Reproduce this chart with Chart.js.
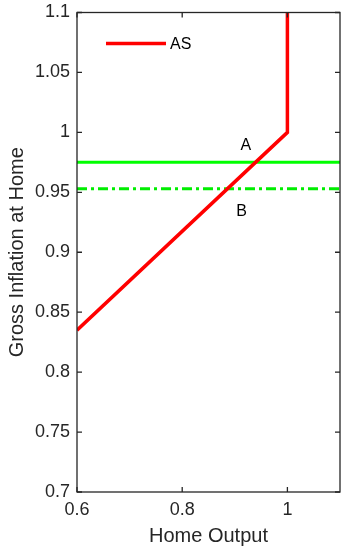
<!DOCTYPE html>
<html><head><meta charset="utf-8">
<script src="https://cdn.jsdelivr.net/npm/chart.js@4"></script>
<style>html,body{margin:0;padding:0;background:#fff;} #c{display:block;}</style>
</head><body>
<canvas id="c" width="341" height="548"></canvas>
<script>
const asX = [0.6, 1, 1];
const asY = [0.835, 1, 1.1];
const lineAX = [0.6, 1.1];
const lineAY = [0.975, 0.975];
const lineBX = [0.6, 1.1];
const lineBY = [0.953, 0.953];
const xTicks = [0.6, 0.8, 1];
const yTicks = [0.7, 0.75, 0.8, 0.85, 0.9, 0.95, 1, 1.05, 1.1];
const pointLabels = ['A', 'B'];
const pointLabelX = [0.921, 0.913];
const pointLabelY = [0.989, 0.934];

const FONT = '"Liberation Sans", Arial, sans-serif';
const AX = '#262626';
const toPts = (xs, ys) => xs.map((x, i) => ({x: x, y: ys[i]}));

const decor = {
  id: 'decor',
  afterDraw(chart) {
    const ctx = chart.ctx, a = chart.chartArea;
    const xs = chart.scales.x, ys = chart.scales.y;
    ctx.save();
    ctx.strokeStyle = AX;
    ctx.lineWidth = 1.3;
    ctx.strokeRect(a.left, a.top, a.right - a.left, a.bottom - a.top);
    const tl = 5;
    ctx.beginPath();
    xTicks.forEach(v => {
      const p = xs.getPixelForValue(v);
      ctx.moveTo(p, a.bottom); ctx.lineTo(p, a.bottom - tl);
      ctx.moveTo(p, a.top); ctx.lineTo(p, a.top + tl);
    });
    yTicks.forEach(v => {
      const p = ys.getPixelForValue(v);
      ctx.moveTo(a.left, p); ctx.lineTo(a.left + tl, p);
      ctx.moveTo(a.right, p); ctx.lineTo(a.right - tl, p);
    });
    ctx.stroke();
    // point labels
    ctx.fillStyle = '#000';
    ctx.font = '16px ' + FONT;
    ctx.textAlign = 'center';
    ctx.textBaseline = 'middle';
    pointLabels.forEach((t, i) => {
      ctx.fillText(t, xs.getPixelForValue(pointLabelX[i]), ys.getPixelForValue(pointLabelY[i]));
    });
    // legend
    const ds = chart.data.datasets[0];
    ctx.strokeStyle = ds.borderColor;
    ctx.lineWidth = ds.borderWidth;
    ctx.beginPath();
    ctx.moveTo(a.left + 29, a.top + 31);
    ctx.lineTo(a.left + 89, a.top + 31);
    ctx.stroke();
    ctx.textAlign = 'left';
    ctx.fillStyle = '#000';
    ctx.font = '16px ' + FONT;
    ctx.fillText(ds.label, a.left + 93, a.top + 32);
    ctx.restore();
  }
};

new Chart(document.getElementById('c'), {
  type: 'scatter',
  data: {
    datasets: [
      {label: 'AS', data: toPts(asX, asY), showLine: true, borderColor: '#ff0000', borderWidth: 3.5, pointRadius: 0, fill: false},
      {label: 'A', data: toPts(lineAX, lineAY), showLine: true, borderColor: '#00ff00', borderWidth: 3, pointRadius: 0, fill: false},
      {label: 'B', data: toPts(lineBX, lineBY), showLine: true, borderColor: '#00ee00', borderWidth: 3, borderDash: [10, 4, 3, 4], pointRadius: 0, fill: false}
    ]
  },
  options: {
    responsive: false,
    animation: false,
    devicePixelRatio: 1,
    layout: {padding: {top: 12.5, right: 1, bottom: 0, left: 0}},
    plugins: {legend: {display: false}, tooltip: {enabled: false}},
    scales: {
      x: {
        type: 'linear', min: 0.6, max: 1.1,
        afterBuildTicks: s => { s.ticks = xTicks.map(v => ({value: v})); },
        afterFit: s => { s.height = 56; s.paddingLeft = 0; s.paddingRight = 0; },
        grid: {display: false, drawTicks: false},
        border: {display: false},
        ticks: {padding: 7, color: AX, font: {family: FONT, size: 18}, callback: v => String(v), maxRotation: 0},
        title: {display: true, text: 'Home Output', color: AX, font: {family: FONT, size: 20}, padding: {top: 0, bottom: 0}}
      },
      y: {
        type: 'linear', min: 0.7, max: 1.1,
        afterBuildTicks: s => { s.ticks = yTicks.map(v => ({value: v})); },
        afterFit: s => { s.width = 77; s.paddingTop = 0; s.paddingBottom = 0; },
        grid: {display: false, drawTicks: false},
        border: {display: false},
        ticks: {padding: 7, color: AX, font: {family: FONT, size: 18}, callback: v => String(v)},
        title: {display: true, text: 'Gross Inflation at Home', color: AX, font: {family: FONT, size: 20}, padding: {top: 5, bottom: 0}}
      }
    }
  },
  plugins: [decor]
});
</script>
</body></html>
